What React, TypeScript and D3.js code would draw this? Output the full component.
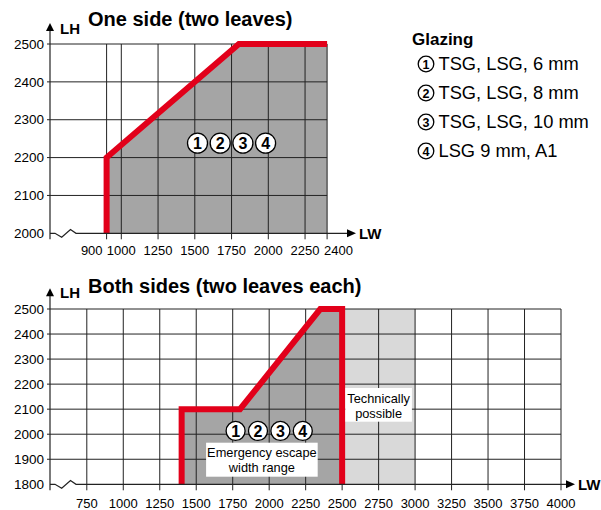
import React from "react";
import * as d3 from "d3";

// ---------- data ----------
const TOP_X_TICKS = [900, 1000, 1250, 1500, 1750, 2000, 2250, 2400];
const TOP_Y_TICKS = [2000, 2100, 2200, 2300, 2400, 2500];
const TOP_BOUNDARY_LW = [900, 900, 1800, 2400];
const TOP_BOUNDARY_LH = [2000, 2200, 2500, 2500];

const BOTTOM_X_TICKS = [750, 1000, 1250, 1500, 1750, 2000, 2250, 2500, 2750, 3000, 3250, 3500, 3750, 4000];
const BOTTOM_Y_TICKS = [1800, 1900, 2000, 2100, 2200, 2300, 2400, 2500];
const BOTTOM_BOUNDARY_LW = [1400, 1400, 1800, 2350, 2500, 2500];
const BOTTOM_BOUNDARY_LH = [1800, 2100, 2100, 2500, 2500, 1800];
const TECH_POSSIBLE_LW = [2500, 3000];

const GLAZING_NUMBERS = ["1", "2", "3", "4"];
const GLAZING_LABELS = ["TSG, LSG, 6 mm", "TSG, LSG, 8 mm", "TSG, LSG, 10 mm", "LSG 9 mm, A1"];

const TITLE_TOP = "One side (two leaves)";
const TITLE_BOTTOM = "Both sides (two leaves each)";

// ---------- style ----------
const FONT = "'Liberation Sans', Arial, sans-serif";
const RED = "#e2001a";
const DARK = "#a5a5a5";
const LIGHT = "#d9d9d9";
const GRID = "#222";

function Circled({ cx, cy, r, label, fs }: { cx: number; cy: number; r: number; label: string; fs: number }) {
  return (
    <g>
      <circle cx={cx} cy={cy} r={r} fill="#fff" stroke="#000" strokeWidth={1.3} />
      <text x={cx} y={cy + fs * 0.36} textAnchor="middle" fontFamily={FONT} fontWeight="bold" fontSize={fs} fill="#000">
        {label}
      </text>
    </g>
  );
}

function AxisFrame({ axisX, axisY, topY, arrowX, yLabelY, lwY }: any) {
  const brk = `M${axisX},${axisY} H${axisX + 5} L${axisX + 11.7},${axisY + 4} L${axisX + 20.5},${axisY - 3.7} L${axisX + 26},${axisY} H${arrowX - 8}`;
  return (
    <g>
      <path d={brk} fill="none" stroke={GRID} strokeWidth={1.2} />
      <polygon points={`${arrowX - 9},${axisY - 4} ${arrowX},${axisY} ${arrowX - 9},${axisY + 4}`} fill="#000" />
      <line x1={axisX} x2={axisX} y1={axisY + 6} y2={topY + 7} stroke={GRID} strokeWidth={1.2} />
      <polygon points={`${axisX - 4},${topY + 8} ${axisX},${topY} ${axisX + 4},${topY + 8}`} fill="#000" />
      <text x={axisX + 10} y={yLabelY} fontFamily={FONT} fontWeight="bold" fontSize={15}>LH</text>
      <text x={arrowX + 3} y={lwY} fontFamily={FONT} fontWeight="bold" fontSize={15}>LW</text>
    </g>
  );
}

export default function App() {
  // top chart scales
  const xT = d3.scaleLinear().domain([900, 2400]).range([106.6, 327.1]);
  const yT = d3.scaleLinear().domain([2000, 2500]).range([233.3, 44]);
  // bottom chart scales
  const xB = d3.scaleLinear().domain([750, 4000]).range([86.8, 561]);
  const yB = d3.scaleLinear().domain([1800, 2500]).range([484.3, 309]);

  const axisX = 50;

  const topPts: [number, number][] = TOP_BOUNDARY_LW.map((v, i) => [xT(v), yT(TOP_BOUNDARY_LH[i])]);
  const topArea: [number, number][] = [...topPts, [xT(2400), yT(2000)]];
  const botPts: [number, number][] = BOTTOM_BOUNDARY_LW.map((v, i) => [xB(v), yB(BOTTOM_BOUNDARY_LH[i])]);
  const line = d3.line();

  const topY0 = yT(2000);
  const botY0 = yB(1800);

  return (
    <svg width={601} height={510} style={{ position: "absolute", left: 0, top: 0, background: "#fff" }}>
      {/* ---------- TOP CHART ---------- */}
      <text x={88} y={26} fontFamily={FONT} fontWeight="bold" fontSize={20}>{TITLE_TOP}</text>
      <path d={line(topArea) + "Z"} fill={DARK} />
      {TOP_Y_TICKS.filter((t) => t !== 2000).map((t) => (
        <line key={t} x1={axisX - 3} x2={xT(2400)} y1={yT(t)} y2={yT(t)} stroke={GRID} strokeWidth={1} />
      ))}
      {TOP_X_TICKS.map((t) => (
        <line key={t} x1={xT(t)} x2={xT(t)} y1={yT(2500)} y2={topY0 + 6} stroke={GRID} strokeWidth={1} />
      ))}
      <path d={line(topPts) || ""} fill="none" stroke={RED} strokeWidth={6} strokeLinejoin="miter" />
      <AxisFrame axisX={axisX} axisY={topY0} topY={23} arrowX={356} yLabelY={34} lwY={topY0 + 5.5} />
      {TOP_Y_TICKS.map((t) => (
        <text key={t} x={44} y={yT(t) + 4.7} textAnchor="end" fontFamily={FONT} fontSize={13.5}>{t}</text>
      ))}
      {TOP_X_TICKS.map((t, i) => {
        const first = i === 0;
        const last = i === TOP_X_TICKS.length - 1;
        return (
          <text
            key={t}
            x={first ? xT(t) - 4 : last ? xT(t) - 3 : xT(t)}
            y={255}
            textAnchor={first ? "end" : last ? "start" : "middle"}
            fontFamily={FONT}
            fontSize={13}
          >
            {t}
          </text>
        );
      })}
      {GLAZING_NUMBERS.map((n, i) => (
        <Circled key={n} cx={xT(1750) + (i - 1.5) * 22.7} cy={yT(2238)} r={10} label={n} fs={16} />
      ))}

      {/* ---------- LEGEND ---------- */}
      <text x={412} y={45} fontFamily={FONT} fontWeight="bold" fontSize={17}>Glazing</text>
      {GLAZING_LABELS.map((lab, i) => (
        <g key={lab}>
          <Circled cx={426} cy={70 + i * 29 - 6} r={7.8} label={GLAZING_NUMBERS[i]} fs={12.5} />
          <text x={438.5} y={70 + i * 29} fontFamily={FONT} fontSize={18.3}>{lab}</text>
        </g>
      ))}

      {/* ---------- BOTTOM CHART ---------- */}
      <text x={88} y={292.5} fontFamily={FONT} fontWeight="bold" fontSize={20}>{TITLE_BOTTOM}</text>
      <rect
        x={xB(TECH_POSSIBLE_LW[0])}
        y={yB(2500)}
        width={xB(TECH_POSSIBLE_LW[1]) - xB(TECH_POSSIBLE_LW[0])}
        height={botY0 - yB(2500)}
        fill={LIGHT}
      />
      <path d={line(botPts) + "Z"} fill={DARK} />
      {BOTTOM_Y_TICKS.filter((t) => t !== 1800).map((t) => (
        <line key={t} x1={axisX - 3} x2={xB(4000)} y1={yB(t)} y2={yB(t)} stroke={GRID} strokeWidth={1} />
      ))}
      {BOTTOM_X_TICKS.map((t) => (
        <line key={t} x1={xB(t)} x2={xB(t)} y1={yB(2500)} y2={botY0 + 6} stroke={GRID} strokeWidth={1} />
      ))}
      <path d={line(botPts) || ""} fill="none" stroke={RED} strokeWidth={6} strokeLinejoin="miter" />
      <AxisFrame axisX={axisX} axisY={botY0} topY={288.3} arrowX={575} yLabelY={298.3} lwY={botY0 + 5.5} />
      {BOTTOM_Y_TICKS.map((t) => (
        <text key={t} x={44} y={yB(t) + 4.7} textAnchor="end" fontFamily={FONT} fontSize={13.5}>{t}</text>
      ))}
      {BOTTOM_X_TICKS.map((t) => (
        <text key={t} x={xB(t)} y={508} textAnchor="middle" fontFamily={FONT} fontSize={13}>{t}</text>
      ))}

      {/* annotations */}
      <rect x={xB(2750) - 33.3} y={388} width={66.6} height={33.7} fill="#fff" />
      <text x={xB(2750)} y={403} textAnchor="middle" fontFamily={FONT} fontSize={12.8}>Technically</text>
      <text x={xB(2750)} y={417.5} textAnchor="middle" fontFamily={FONT} fontSize={12.8}>possible</text>

      <rect x={xB(1950) - 55.8} y={442.7} width={111.6} height={34} fill="#fff" />
      <text x={xB(1950)} y={456.7} textAnchor="middle" fontFamily={FONT} fontSize={12.8}>Emergency escape</text>
      <text x={xB(1950)} y={471.5} textAnchor="middle" fontFamily={FONT} fontSize={12.8}>width range</text>

      {GLAZING_NUMBERS.map((n, i) => (
        <Circled key={n} cx={xB(2000) + (i - 1.5) * 22.4} cy={yB(2013)} r={9.5} label={n} fs={16} />
      ))}
    </svg>
  );
}
